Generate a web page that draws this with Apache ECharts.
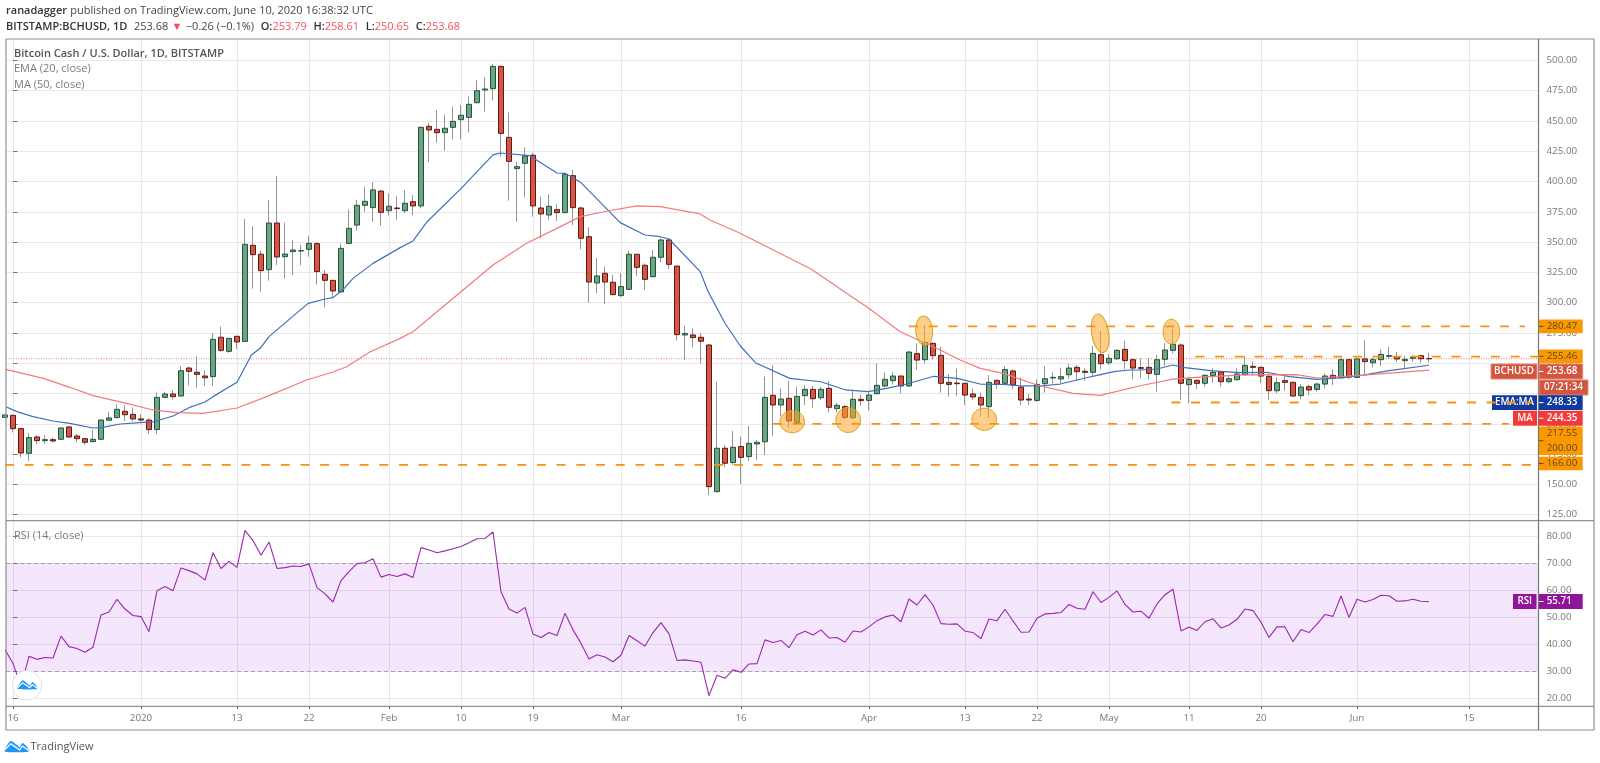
<!DOCTYPE html>
<html><head><meta charset="utf-8">
<style>html,body{margin:0;padding:0;background:#fff}#c{width:1600px;height:763px}</style>
<script src="https://cdn.jsdelivr.net/npm/echarts@6/dist/echarts.min.js"></script>
</head><body><div id="c"></div>
<script>
// Daily bars, 15 Dec 2019 .. 10 Jun 2020: [open, close, low, high]
const ohlc = [
[205.3,207.3,203,208],[207,196,192.9,207.3],[196,175.9,172.3,196.5],[175.6,188.6,169.3,192.1],[189.1,186.1,183.1,190.5],[186.1,186.9,183.6,190.8],[186.9,185.8,184.7,188.6],[187.2,196.5,186.6,197.1],[197.4,189.1,188.3,198.2],[189.9,187.7,184.7,191.6],
[187.7,184.7,182.5,188.3],[185.3,187.2,184.7,194.9],[187.2,203.1,186.9,203.7],[202.9,204.8,202.6,210],[205.1,211.9,204.5,216.1],[210.3,207.5,202.3,215.2],[207.8,204,201.8,213.6],[204,203.1,201.8,207.8],[203.1,195.2,191.6,204.5],[195.2,221.8,191.3,225.7],
[221.8,224.6,221,226.5],[224.6,222.4,219.9,227.9],[222.9,243.8,222.4,247.7],[246,243.3,231.7,247.1],[242.5,240.8,229.5,255.9],[239.4,238,231.2,244.1],[238.9,269.7,231.2,274.7],[271.4,260.6,259.3,280.2],[259.8,270.5,258.7,271.1],[272.2,267.5,261.5,272.7],
[268,348.1,268,369],[347.3,339.6,311.5,363],[339.9,326.4,308.8,342.9],[327.2,365.7,318.1,384.7],[365.7,337.7,331,404.5],[337.9,340.1,319.8,366],[342.1,343.4,322.8,351.7],[342.6,342.9,330.8,347.6],[344,348.9,337.9,355],[348.7,325.6,314.8,350],
[323.4,318.4,296.1,326.9],[318.4,309.6,304.4,318.4],[308.8,344.8,308.2,348.9],[348.9,361.3,348.7,377],[364,380.3,359.4,384.7],[380.3,383.6,374.8,395.7],[378.4,393,366.8,399.3],[392.1,374.5,363.5,392.9],[375.9,379.5,372,390.2],[378.1,377.6,368.2,388],
[375.9,382,373.7,392.9],[383.3,379.8,372.3,388.8],[379.8,444.7,377.8,445.2],[445.5,442.5,415.8,448.5],[443,440.3,432,459],[440.3,443.9,425.4,455.1],[444.7,449.6,434.8,461.7],[451,454.6,434.8,463.1],[452.9,463.7,440.3,470],[465,474.9,464.5,483.8],
[475.5,476.3,457.6,486],[476.6,495,466.7,497],[495,439.7,420.5,495.6],[436.4,416.6,384.2,457],[410.6,412.2,366.8,416.3],[415,421,386.9,428.2],[421.6,379.8,371,423.8],[378.1,373.2,353.1,387.5],[372.3,379.5,368.2,389.4],[376.7,374.3,367.4,381.2],
[374.3,405.9,373.7,406.7],[404.8,378.4,364.1,409.5],[378.1,353.1,344,379.2],[354.4,317,300,362.2],[316.2,322,307.7,337.1],[324.2,317,298.9,329.7],[316.8,306.6,306,322.8],[305.8,313.2,304.4,324.2],[311,339.9,310.4,342.9],[339.9,329.1,322,339.9],
[330.8,319.2,310.4,332.4],[321.4,337.4,320.9,343.4],[337.4,351.7,333.3,353.1],[351.7,331.6,327.8,352.5],[330.2,273.6,268.6,330.2],[273.3,274.4,252.7,281],[273.3,271.1,263.1,278.8],[271.4,268.1,249.9,274.7],[265,148.1,141.3,265.9],[144,179.8,143.2,234.8],
[179.8,167.4,164,182.5],[168,180.6,166,194],[181.2,172.3,150.3,189.4],[172.9,183.9,169.3,198.2],[183.3,184.7,170,186.6],[185.2,221.8,174.2,238.9],[223.5,215.5,189.9,248.2],[215.5,220.4,206.4,229.2],[221,202.3,197,235.3],[201.2,222.6,199,230.6],
[223.2,228.4,215.5,232],[228.4,220.7,213.3,231.2],[221.5,228.4,219.6,230.6],[229.2,213.6,209.2,235.3],[212.5,215.2,209.2,217.4],[214.1,205.3,203.7,215.5],[205,220.2,203.7,227.3],[220.2,219.1,214.7,224],[219.3,223.7,210.8,226],[224.8,231.7,224.3,249.9],
[231.2,236.7,230.1,242.4],[235.6,239.4,232.3,242.7],[239.4,231.2,225.1,239.7],[231.2,259.2,230.6,260],[257.9,252.6,244.4,266.4],[252.9,267.2,249.9,281.5],[266.4,256.2,253.2,267.2],[256.5,233.4,225.7,263.6],[234.2,232.5,222.4,241.1],[233.6,233.1,222.9,245.5],
[233.4,223.7,215.5,233.6],[224.6,222.1,219.6,229.2],[221.8,215.5,205.9,225.7],[214.1,234.2,204.5,240.2],[235.8,232.5,228.7,236.7],[233.4,244.7,232.5,247.7],[243.6,232,229.2,244.9],[230.3,219.6,215.5,238.3],[220.4,219.6,215.5,224.6],[219.3,232.5,218.2,236.7],
[233.1,237.2,225.7,247.7],[237.8,238.3,233.4,242.7],[237,238.9,233.4,246.3],[240.5,246,237.2,249.3],[246.6,243,235.6,248.5],[243.3,242.5,235.6,245.8],[242.5,258.1,238.3,264.2],[257,249.6,244.9,276.8],[250.4,254,248.5,257.6],[253.7,260.6,252.6,261.4],
[261.4,252.1,245,268.6],[252.9,246,236.7,253.7],[246.3,245.8,237.5,254],[246.6,241.6,236.7,254],[240.8,252.9,226.5,256.8],[253.2,260.9,247.7,266.4],[260.6,265.6,258.1,277.9],[265,233.4,219.6,266.4],[232.3,236.7,216.9,238.9],[235.8,233.4,228.7,236.7],
[233.4,240,230.6,240.8],[239.7,242.5,234,245.8],[242.7,234.7,230.6,243.6],[234.7,237.2,233.9,240.2],[236.4,241.1,235.6,245.8],[240.5,248.2,240,255.9],[247.4,246.6,240,251.5],[246.6,239.4,233.4,247.1],[239.1,227.3,219.6,241.6],[227.3,233.9,225.1,238.3],
[235.6,234.2,227.3,240],[234.2,222.9,222.4,234.7],[223.2,230.3,220.4,232.8],[230.6,227.9,223.7,232],[228.4,232.8,226.5,233.9],[232.8,239.4,229.2,241.6],[240,237.8,232,244.9],[238,252.9,237.5,254],[252.9,238.6,236.7,253.5],[238.3,253.5,238,254],
[253.5,251.3,241,269.1],[250.4,252.9,246.6,254.6],[252.9,257.3,247.7,261.4],[255.7,256.2,253.5,263.6],[255.4,253.5,251,259.2],[252.1,253.2,245,255.9],[254,255.1,251.3,256.8],[256.2,253.7,250.4,257],[253.79,253.68,250.65,258.61]
];
// RSI (14), same bars
const rsi = [38,32.9,24.4,35.5,34.4,35.1,34.9,43,39.1,38.4,37,38.9,50.8,51.9,56.6,53,50.6,50.2,44.6,59.8,61.3,59.8,68.2,67.2,66,63.7,73.8,68,70.6,68.4,82.1,78.3,72.9,77.8,68,68.3,68.9,68.7,69.7,60.9,58.6,55.6,63.5,66.8,69.8,70.1,71.6,64.8,65.8,65,66,64.7,75.7,74.8,73.8,74.5,75.3,76.1,77.5,79,79.1,81.5,59.4,53,51.5,
53.6,43.8,42.5,44.3,43.2,51.4,45.3,40.3,34.5,36.1,35.3,33.5,35.9,43.2,41.3,39.3,44.3,48,43.8,34,34.2,33.8,33.3,21,28.5,27.4,30.5,29.6,32.7,32.8,41.6,40.6,41.4,38.7,43.5,44.8,43.4,45.3,42.3,42.5,40.7,44.9,44.5,46.4,48.7,50.1,50.8,48.3,56.7,54.5,58.3,54.5,47.6,47.4,47.5,44.8,44.3,42.1,49.3,48.7,52.9,48.6,44.4,44.5,49.6,51.2,51.4,
51.7,54.7,53.3,52.9,59.4,55.4,57.3,59.7,54.7,51.9,52.2,49.6,54.9,58.3,60.3,44.9,46.4,45.1,48.3,49.4,46,47.1,49.2,53,52.4,48.1,42.5,46.4,46.4,40.9,45.4,44.3,47.4,51,50.3,57.8,49.9,56.6,55.6,56.5,58.1,57.9,55.9,56,56.6,55.9,55.71];
// EMA 20 and MA 50 read at the line's visible vertices: [days since 16 Dec 2019, value]
const ema20 = [[-0.9,214.1],[0.5,210],[2.5,205.9],[5,202.3],[7.1,200.4],[10,196.5],[11,196.8],[13.4,199.8],[15.9,200.9],[17.5,201.5],[20,206.4],[22,213.3],[24,218],[25,222.4],[28,234.2],[29.8,256.8],[30.9,262.3],[32,271.9],[34.2,284.3],[36.9,299.4],[39,303],[40,304.1],[41.3,311],[42.5,320],[45,332.4],[48.4,345.4],[50,350.9],[51.7,366.3],[55.9,393.5],[60,421.9],[60.9,423.5],[64.6,421.3],[68,407],[69,406.7],[70.9,399.6],[75.9,366],[79,355.8],[80.9,354.4],[82,352.5],[85.9,325.6],[86.9,309],[89,283],[90.9,264.4],[92.8,250.4],[97.1,237.5],[101,234.7],[104.1,227.9],[106.9,226.5],[109.2,229.2],[111.7,232.8],[115.1,239.2],[118,237.5],[120.9,232.8],[123.8,232.5],[126.3,231.2],[128.4,231.2],[130.9,232.8],[135.1,239.4],[137.6,243],[139.6,244.4],[140.9,244.4],[143,245.2],[145,248.5],[146.5,246.3],[150,243.6],[153.4,242.2],[156.7,242.5],[159.6,238.9],[163,236.7],[166.3,238],[168.8,240.2],[172,243.8],[177,248.33]];
const ma50 = [[-0.9,244.9],[3.8,237.5],[7.1,230.1],[10,223.2],[14.2,216.9],[17.5,211.4],[20.5,209.2],[23.8,208.6],[28,213],[31.7,222.4],[36.7,236.1],[40,242.7],[41.7,247.1],[44.6,259.3],[48.4,270.5],[50,276],[60,331],[64.2,349],[68,361.3],[70.9,371],[74.3,375.6],[78,379.8],[80.9,379.2],[85.9,373.2],[87.1,368.2],[90.9,357.2],[99.8,327.5],[105.3,302.8],[106.8,296.1],[110.9,276],[115.9,260.9],[118.4,252.6],[120.9,245.7],[123.8,241.6],[128,232],[132.5,225.1],[135.9,223.5],[140.9,231.4],[145,236.9],[147.9,238.3],[153.8,240.3],[160.4,240.5],[163.1,237.8],[168.8,240.2],[177,244.35]];
// Horizontal levels drawn by the author: [value, first day, last day]
const levels = [[280.47,112,189],[255.46,147.8,192],[217.55,144.8,189.9],[200,95,187],[166,-1,189.75]];
// Hand-drawn ellipses: [day, price, half-width in days, half-height in $, tilt in degrees]
const ellipses = [[97.4,201.7,1.54,9.1,0],[104.4,203.1,1.54,10.3,0],[121.4,203.7,1.54,9.1,0],[113.9,276.8,1.06,12.1,4],[135.9,274.7,1.06,16,9],[144.8,276,1.04,10.3,0]];
const lastClose = 253.68;
const priceTicks = [125,150,175,200,225,250,275,300,325,350,375,400,425,450,475,500];
const rsiTicks = [20,30,40,50,60,70,80];
const xTickDates = ['2019-12-16','2020-01-01','2020-01-13','2020-01-22','2020-02-01','2020-02-10','2020-02-19','2020-03-01','2020-03-16','2020-04-01','2020-04-13','2020-04-22','2020-05-01','2020-05-11','2020-05-20','2020-06-01','2020-06-15'];
const xTickLabels = ['16','2020','13','22','Feb','10','19','Mar','16','Apr','13','22','May','11','20','Jun','15'];

const DAY = 864e5, T0 = Date.UTC(2019,11,16);
const xMin = -0.875, xMax = -0.875+191.5625;
const xTicks = xTickDates.map(s => (Date.parse(s+'T00:00:00Z')-T0)/DAY);
const xLabelOf = {}; xTicks.forEach((v,i)=>xLabelOf[v]=xTickLabels[i]);
const FONT = '"Open Sans", sans-serif';
const GRID = '#e8e8e8', FRAME='#8f8f8f';
const AXISPX = 9.8, TEXTPX = 11;

const wickData = ohlc.map((b,i)=>[i-1,...b]);
const bodyData = ohlc.map((b,i)=>[i-1,b[0],b[1],Math.min(b[0],b[1]),Math.max(b[0],b[1])]);
const line = (data,color,width,extra) => Object.assign({type:'line',showSymbol:false,symbol:'none',silent:true,animation:false,data,lineStyle:{color,width}},extra||{});

const series = [
 {type:'candlestick',xAxisIndex:0,yAxisIndex:0,barWidth:1,data:wickData,silent:true,animation:false,z:3,
  itemStyle:{color:'#949494',color0:'#949494',borderColor:'#949494',borderColor0:'#949494',borderWidth:1}},
 {type:'candlestick',xAxisIndex:0,yAxisIndex:0,barWidth:5,data:bodyData,silent:true,animation:false,z:4,
  itemStyle:{color:'#6ba583',color0:'#d75442',borderColor:'#225437',borderColor0:'#5b1a13',borderWidth:1}},
 line([[xMin,lastClose],[xMax,lastClose]],'#e58b8b',1,{xAxisIndex:0,yAxisIndex:0,z:3,lineStyle:{color:'#e58b8b',width:1,type:[1,1.5]}}),
 line(ema20,'#3f6fbd',1.2,{xAxisIndex:0,yAxisIndex:0,z:5}),
 line(ma50,'#f47a7a',1.2,{xAxisIndex:0,yAxisIndex:0,z:5}),
 ...levels.map(l=>line([[l[1],l[0]],[l[2],l[0]]],'#fb9114',1.8,{xAxisIndex:0,yAxisIndex:0,z:40,lineStyle:{color:'#fb9114',width:1.8,type:[9,10.7]}})),
 {type:'custom',xAxisIndex:0,yAxisIndex:0,silent:true,animation:false,z:8,
  data:ellipses,encode:{x:0,y:1},
  renderItem:(p,api)=>{
    const c=api.coord([api.value(0),api.value(1)]);
    const ex=api.coord([api.value(0)+api.value(2),api.value(1)]);
    const ey=api.coord([api.value(0),api.value(1)+api.value(3)]);
    return {type:'ellipse',x:c[0],y:c[1],rotation:api.value(4)*Math.PI/180,
      shape:{cx:0,cy:0,rx:Math.abs(ex[0]-c[0]),ry:Math.abs(ey[1]-c[1])},
      style:{fill:'rgba(255,166,40,0.55)',stroke:'#d4a51e',lineWidth:1}};
  }},
 line(rsi.map((v,i)=>[i-1,v]),'#9c27b0',1.1,{xAxisIndex:1,yAxisIndex:1,z:5,
  markArea:{silent:true,animation:false,itemStyle:{color:'rgba(155,39,225,0.115)',borderWidth:0},data:[[{yAxis:70},{yAxis:30}]]},
  markLine:{silent:true,animation:false,symbol:'none',label:{show:false},lineStyle:{color:'rgba(120,110,130,0.55)',width:1,type:[4,3]},data:[{yAxis:70},{yAxis:30}]}})
];

const box = (x,y,w,h,fill,stroke) => ({type:'rect',z:19,shape:{x,y,width:w,height:h},style:{fill,stroke:stroke||fill,lineWidth:stroke?1:0}});
const priceBox = (y,h,text,bg,color,stroke) => [
  box(1539,y,43.7,h,bg,stroke),
  {type:'rect',z:21,shape:{x:1539,y:y+h/2-0.5,width:4.5,height:1},style:{fill:color==='#fff'?'#fff':'#5a4a2a'}},
  {type:'text',z:21,x:1546.7,y:y+h/2,style:{text,font:(color==='#fff'?'600 ':'')+AXISPX+'px '+FONT,fill:color,verticalAlign:'middle'}}];
const tagBox = (x,y,w,h,text,bg,stroke) => [box(x,y,w,h,bg,stroke),
  {type:'text',z:21,x:x+w/2,y:y+h/2,style:{text,font:'600 '+AXISPX+'px '+FONT,fill:'#fff',align:'center',verticalAlign:'middle'}}];
const ORANGE='#fb9800', RED='#d4553f', BLUE='#0f3a9e', MARED='#f23a3a', PURPLE='#8f1499';

const logo = (x,y,s) => [
 {type:'polygon',z:22,shape:{smooth:0.25,points:[[0,12],[0.4,8.5],[6,1],[12,5],[15,7.5],[18,3],[23.4,8],[24,12]].map(p=>[x+p[0]*s,y+p[1]*s])},style:{fill:'#2196f3'}},
 {type:'polyline',z:23,shape:{points:[[0,10],[6,4],[12,8],[15,10.3],[18,6.3],[24,10.5]].map(p=>[x+p[0]*s,y+p[1]*s])},style:{stroke:'#fff',lineWidth:1.2,fill:null}}];

const R='#f7525f', K='#333';
const F=TEXTPX+'px '+FONT, FB='600 '+F;
const graphic = [
 {type:'text',z:30,x:6,y:11,style:{rich:{b:{font:FB,fill:K},n:{font:F,fill:'#444'}},text:'{b|ranadagger} {n|published on TradingView.com, June 10, 2020 16:38:32 UTC}',verticalAlign:'middle'}},
 {type:'text',z:30,x:6,y:27,style:{rich:{b:{font:FB,fill:K},n:{font:F,fill:'#444'},r:{font:F,fill:R}},text:'{b|BITSTAMP:BCHUSD, 1D}  {n|253.68} {r|▼} {n|−0.26 (−0.1%)}  {b|O:}{r|253.79}  {b|H:}{r|258.61}  {b|L:}{r|250.65}  {b|C:}{r|253.68}',verticalAlign:'middle'}},
 {type:'text',z:30,x:14,y:54,style:{text:'Bitcoin Cash / U.S. Dollar, 1D, BITSTAMP',font:FB,fill:'#555',verticalAlign:'middle'}},
 {type:'text',z:30,x:14,y:69,style:{text:'EMA (20, close)',font:F,fill:'#7b7b7b',verticalAlign:'middle'}},
 {type:'text',z:30,x:14,y:84.5,style:{text:'MA (50, close)',font:F,fill:'#7b7b7b',verticalAlign:'middle'}},
 {type:'text',z:30,x:14,y:535.5,style:{text:'RSI (14, close)',font:F,fill:'#7b7b7b',verticalAlign:'middle'}},
 {type:'polyline',z:18,shape:{points:[[6,39],[1594,39],[1594,730],[6,730],[6,39]]},style:{stroke:FRAME,lineWidth:1.2,fill:null}},
 {type:'line',z:18,shape:{x1:6,y1:520.7,x2:1594,y2:520.7},style:{stroke:FRAME,lineWidth:1.2}},
 {type:'line',z:18,shape:{x1:6,y1:706.3,x2:1594,y2:706.3},style:{stroke:FRAME,lineWidth:1.2}},
 {type:'line',z:18,shape:{x1:1538.5,y1:39,x2:1538.5,y2:730},style:{stroke:'#777',lineWidth:1.2}},
 ...priceBox(319.5,13.8,'280.47',ORANGE,'#5b4a22'),
 ...priceBox(349.5,13.8,'255.46',ORANGE,'#5b4a22'),
 ...priceBox(426.5,28.5,'',ORANGE,'#5b4a22'),
 {type:'text',z:21,x:1546.7,y:433,style:{text:'217.55',font:AXISPX+'px '+FONT,fill:'#5b4a22',verticalAlign:'middle'}},
 {type:'text',z:21,x:1546.7,y:448,style:{text:'200.00',font:AXISPX+'px '+FONT,fill:'#5b4a22',verticalAlign:'middle'}},
 ...priceBox(456.7,13.6,'166.00',ORANGE,'#5b4a22'),
 ...priceBox(364,15,'253.68',RED,'#fff','#e58a78'),
 ...tagBox(1491,364,46,15,'BCHUSD',RED,'#e58a78'),
 ...tagBox(1539,380,49,15,'07:21:34',RED,'#e58a78'),
 ...priceBox(395.3,14.7,'248.33',BLUE,'#fff'),
 ...tagBox(1492,395.3,45,14.7,'EMA:MA',BLUE),
 ...priceBox(410.7,15,'244.35',MARED,'#fff'),
 ...tagBox(1513,410.7,24,15,'MA',MARED),
 ...priceBox(594,15,'55.71',PURPLE,'#fff'),
 ...tagBox(1513,594,23.5,15,'RSI',PURPLE),
 {type:'circle',z:21,shape:{cx:27,cy:685.3,r:14.7},style:{fill:'#fff',stroke:'#e2e2e2',lineWidth:1}},
 ...logo(17.8,679.5,0.8),
 ...logo(5,740,0.97),
 {type:'text',z:30,x:30.5,y:746.7,style:{text:'TradingView',font:F,fill:'#555',verticalAlign:'middle'}}
];

const splitLine={show:true,lineStyle:{color:GRID,width:1}};
const labelFont={color:'#787878',fontFamily:'"Open Sans", sans-serif',fontSize:AXISPX};
const chart = echarts.init(document.getElementById('c'),null,{renderer:'canvas'});
chart.setOption({
 animation:false,backgroundColor:'#fff',
 grid:[{left:6,width:1532.5,top:38.5,height:482.2,containLabel:false},{left:6,width:1532.5,top:520.7,height:185.6,containLabel:false}],
 xAxis:[
  {type:'value',gridIndex:0,min:xMin,max:xMax,axisLine:{show:false},axisTick:{show:false,customValues:xTicks},axisLabel:{show:false,customValues:xTicks},splitLine},
  {type:'value',gridIndex:1,min:xMin,max:xMax,axisLine:{show:false},axisTick:{show:true,length:2.5,lineStyle:{color:'#555'},customValues:xTicks},
   axisLabel:Object.assign({show:true,customValues:xTicks,margin:7,hideOverlap:false,formatter:v=>xLabelOf[v]||''},labelFont),splitLine}
 ],
 yAxis:[
  {type:'value',gridIndex:0,position:'right',min:120,max:518,axisLine:{show:false},axisTick:{show:true,length:4.5,lineStyle:{color:'#777'},customValues:priceTicks},
   axisLabel:Object.assign({customValues:priceTicks,margin:8,formatter:v=>v.toFixed(2),hideOverlap:false},labelFont),splitLine},
  {type:'value',gridIndex:1,position:'right',min:17.04,max:85.66,axisLine:{show:false},axisTick:{show:true,length:4.5,lineStyle:{color:'#777'},customValues:rsiTicks},
   axisLabel:Object.assign({customValues:rsiTicks,margin:8,formatter:v=>v.toFixed(2),hideOverlap:false},labelFont),splitLine}
 ],
 series,graphic
});
</script></body></html>
